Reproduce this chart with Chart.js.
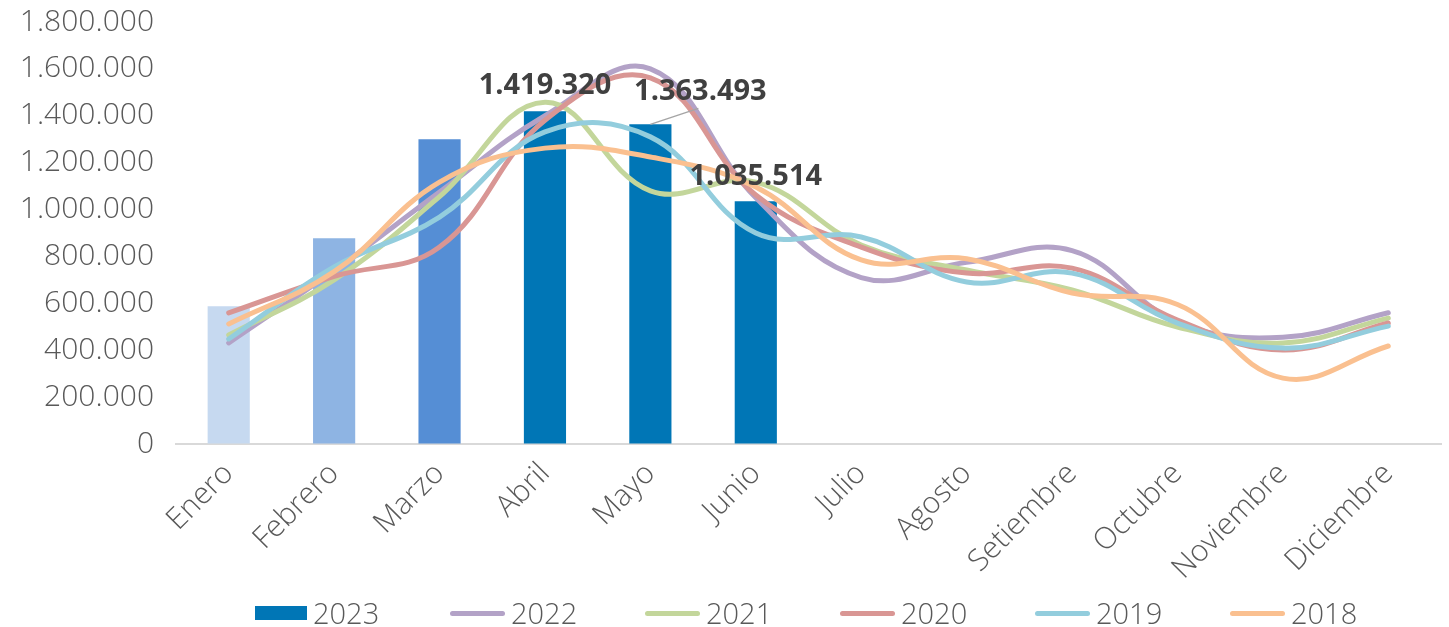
<!DOCTYPE html>
<html lang="es">
<head>
<meta charset="utf-8">
<title>Pasajeros por mes</title>
<script src="https://cdn.jsdelivr.net/npm/chart.js@4.4.0/dist/chart.umd.min.js"></script>
<style>
    html, body { margin: 0; padding: 0; background: #fff; }
    #wrap { position: relative; width: 1449px; height: 627px; }
    #legend {
        position: absolute; left: 255px; top: 596px;
        display: flex;
        font-family: 'Open Sans', sans-serif; font-weight: 300; font-size: 29px;
        line-height: 34px; color: #595959;
    }
    .item { width: 195px; display: flex; align-items: center; }
    .mark { flex: none; margin-right: 6px; }
</style>
</head>
<body>
<div id="wrap">
    <canvas id="chart" width="1449" height="627"></canvas>
    <div id="legend"></div>
</div>
<script>
// Data
const meses = ['Enero', 'Febrero', 'Marzo', 'Abril', 'Mayo', 'Junio', 'Julio', 'Agosto', 'Setiembre', 'Octubre', 'Noviembre', 'Diciembre'];
const anios = ['2023', '2022', '2021', '2020', '2019', '2018'];
const valores2023 = [588000, 878000, 1300000, 1419320, 1363493, 1035514];
const valores2022 = [431000, 740000, 1075000, 1400000, 1600000, 1050000, 710000, 775000, 825000, 520000, 455000, 560000];
const valores2021 = [465000, 700000, 1055000, 1458000, 1080000, 1117000, 849000, 742000, 657000, 499000, 431000, 537000];
const valores2020 = [559000, 715000, 840000, 1381000, 1562000, 1062000, 840000, 729000, 750000, 529000, 401000, 516000];
const valores2019 = [448000, 755000, 968000, 1331000, 1310000, 900000, 883000, 691000, 729000, 516000, 409000, 503000];
const valores2018 = [512000, 735000, 1117000, 1262000, 1224000, 1096000, 785000, 790000, 644000, 595000, 281000, 418000];
const yMax = 1800000;
const yPaso = 200000;

// Styles
const coloresBarras = ['#C6D9F0', '#8EB4E3', '#558ED5', '#0076B6', '#0076B6', '#0076B6'];
const colorLeyenda2023 = '#0076B6';
const coloresLineas = ['#B3A2C7', '#C3D69B', '#D99694', '#93CDDD', '#FAC090'];
const fuente = "'Open Sans', sans-serif";

function formato(v) {
    return String(v).replace(/\B(?=(\d{3})+(?!\d))/g, '.');
}

// data labels on the 2023 bars
const etiquetasBarras = [
    { index: 3, dx: 0, dy: -26 },
    { index: 4, dx: 50, dy: -33, guia: true },
    { index: 5, dx: 0, dy: -24 }
];

const pluginEtiquetas = {
    id: 'etiquetas',
    afterDatasetsDraw(chart) {
        const meta = chart.getDatasetMeta(0);
        const ctx = chart.ctx;
        ctx.save();
        etiquetasBarras.forEach(e => {
            const bar = meta.data[e.index];
            if (e.guia) {
                ctx.strokeStyle = '#A6A6A6';
                ctx.lineWidth = 1.5;
                ctx.beginPath();
                ctx.moveTo(bar.x, bar.y);
                ctx.lineTo(bar.x + 48, bar.y - 16);
                ctx.stroke();
            }
            ctx.font = 'bold 29px ' + fuente;
            ctx.fillStyle = '#404040';
            ctx.textAlign = 'center';
            ctx.textBaseline = 'middle';
            ctx.fillText(formato(valores2023[e.index]), bar.x + e.dx, bar.y + e.dy);
        });
        ctx.restore();
    }
};

const seriesLineas = [valores2022, valores2021, valores2020, valores2019, valores2018];

const datasets = [{
    type: 'bar',
    label: anios[0],
    data: valores2023,
    backgroundColor: coloresBarras,
    barPercentage: 0.4,
    categoryPercentage: 1.0,
    order: 10
}];

seriesLineas.forEach((serie, i) => {
    datasets.push({
        type: 'line',
        label: anios[i + 1],
        data: serie,
        borderColor: coloresLineas[i],
        backgroundColor: coloresLineas[i],
        borderWidth: 5,
        borderCapStyle: 'round',
        pointRadius: 0,
        tension: 0.4,
        fill: false,
        order: 5 - i
    });
});

new Chart(document.getElementById('chart'), {
    type: 'bar',
    data: { labels: meses, datasets: datasets },
    options: {
        responsive: false,
        devicePixelRatio: 1,
        animation: false,
        layout: { padding: { top: 6, right: 8, bottom: 43, left: 0 } },
        plugins: {
            legend: { display: false },
            tooltip: { enabled: false }
        },
        scales: {
            x: {
                grid: { display: false },
                border: { display: true, color: '#D9D9D9', width: 2 },
                ticks: {
                    color: '#595959',
                    font: { family: fuente, size: 30, weight: 300 },
                    minRotation: 45,
                    maxRotation: 45,
                    padding: 4,
                    autoSkip: false
                },
                afterFit(scale) { scale.height = 140; }
            },
            y: {
                min: 0,
                max: yMax,
                // invisible grid, only used so the tick length pushes labels left
                grid: { display: true, color: 'rgba(0,0,0,0)', drawTicks: true, tickLength: 18 },
                border: { display: false },
                ticks: {
                    stepSize: yPaso,
                    color: '#595959',
                    font: { family: fuente, size: 30, weight: 300 },
                    padding: 4,
                    callback: v => formato(v)
                },
                afterFit(scale) { scale.width = 176; }
            }
        }
    },
    plugins: [pluginEtiquetas]
});

// Legend
const leyenda = document.getElementById('legend');
anios.forEach((anio, i) => {
    const item = document.createElement('div');
    item.className = 'item';
    const marca = document.createElement('span');
    marca.className = 'mark';
    if (i === 0) {
        marca.style.cssText = 'width:52px;height:14px;background:' + colorLeyenda2023;
    } else {
        marca.style.cssText = 'width:55px;height:5px;border-radius:3px;background:' + coloresLineas[i - 1];
    }
    const texto = document.createElement('span');
    texto.textContent = anio;
    item.appendChild(marca);
    item.appendChild(texto);
    leyenda.appendChild(item);
});
</script>
</body>
</html>
